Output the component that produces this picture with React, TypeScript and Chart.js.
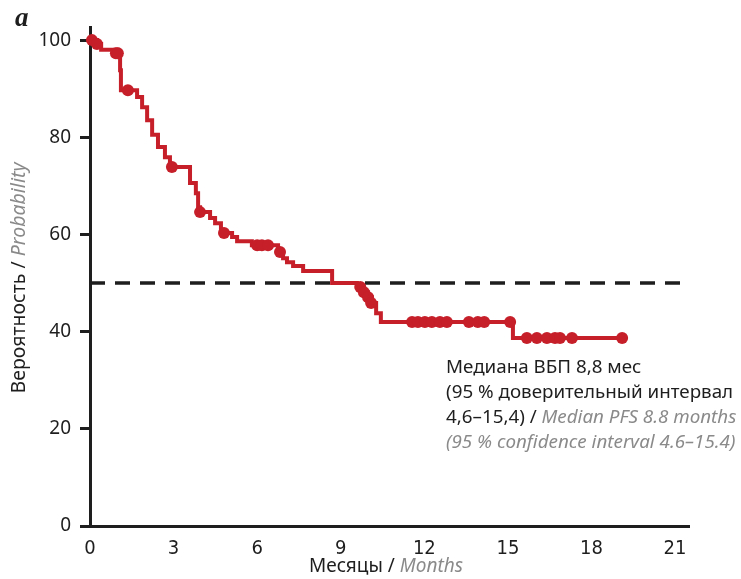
import { useEffect, useRef } from 'react';
import { Chart, registerables } from 'chart.js';

Chart.register(...registerables);

// Tick labels
const xTicks = [0, 3, 6, 9, 12, 15, 18, 21];
const yTicks = [0, 20, 40, 60, 80, 100];

// Kaplan–Meier step curve (months, probability %)
const stepTimes = [0, 0.25, 0.4, 1.0, 1.08, 1.11, 1.69, 1.87, 2.05, 2.23, 2.44, 2.69, 2.87, 3.59, 3.8, 3.88, 3.95, 4.31, 4.49, 4.7, 5.1, 5.28, 5.81, 6.75, 6.93, 7.07, 7.29, 7.65, 8.69, 9.58, 9.76, 9.98, 10.12, 10.27, 10.44, 15.18, 19.1];
const stepValues = [100, 99.2, 98, 97.3, 93.8, 89.7, 88.3, 86.2, 83.5, 80.5, 78, 75.9, 73.9, 70.6, 68.5, 65.6, 64.6, 63.4, 62.3, 60.3, 59.5, 58.6, 57.8, 56.4, 55.1, 54.3, 53.5, 52.5, 50, 49.2, 48.1, 47.1, 45.9, 43.8, 42, 38.7, 38.7];

// Censored observations
const censorTimes = [0.07, 0.25, 0.93, 1.0, 1.36, 2.94, 3.95, 4.81, 6.0, 6.17, 6.39, 6.82, 9.7, 9.83, 9.98, 10.09, 11.56, 11.77, 12.02, 12.27, 12.56, 12.81, 13.6, 13.92, 14.15, 15.08, 15.68, 16.04, 16.4, 16.69, 16.87, 17.3, 19.1];
const censorValues = [100, 99.2, 97.3, 97.3, 89.7, 73.9, 64.6, 60.3, 57.8, 57.8, 57.8, 56.4, 49.2, 48.1, 47.1, 45.9, 42, 42, 42, 42, 42, 42, 42, 42, 42, 42, 38.7, 38.7, 38.7, 38.7, 38.7, 38.7, 38.7];

// Median reference line
const medianTimes = [0, 21.3];
const medianValues = [50, 50];

const RED = '#c61f2a';
const DARK = '#1e1e1e';
const GRAY = '#8a8a8a';
const FONT = "'Noto Sans', 'Open Sans', sans-serif";
const NARROW = "'Liberation Sans Narrow', 'DejaVu Sans Condensed', 'Noto Sans', sans-serif";

type Part = { t: string; italic?: boolean; gray?: boolean };

function drawParts(ctx: CanvasRenderingContext2D, parts: Part[], x: number, y: number, size: number, center = false) {
  let total = 0;
  for (const p of parts) {
    ctx.font = `${p.italic ? 'italic ' : ''}${size}px ${FONT}`;
    total += ctx.measureText(p.t).width;
  }
  let cx = center ? x - total / 2 : x;
  for (const p of parts) {
    ctx.font = `${p.italic ? 'italic ' : ''}${size}px ${FONT}`;
    ctx.fillStyle = p.gray ? GRAY : DARK;
    ctx.fillText(p.t, cx, y);
    cx += ctx.measureText(p.t).width;
  }
}

const textPlugin = {
  id: 'textPlugin',
  afterDraw(chart: any) {
    const ctx: CanvasRenderingContext2D = chart.ctx;
    ctx.save();
    ctx.textBaseline = 'middle';
    ctx.textAlign = 'left';
    // panel letter
    ctx.font = `italic bold 27px 'Liberation Serif', 'DejaVu Serif', serif`;
    ctx.fillStyle = DARK;
    ctx.fillText('a', 15, 19);
    // x title
    drawParts(ctx, [{ t: 'Месяцы / ' }, { t: 'Months', italic: true, gray: true }], 386, 567, 19, true);
    // y title
    ctx.save();
    ctx.translate(19, 278);
    ctx.rotate(-Math.PI / 2);
    drawParts(ctx, [{ t: 'Вероятность / ' }, { t: 'Probability', italic: true, gray: true }], 0, 0, 19.5, true);
    ctx.restore();
    // annotation
    const ax = 446;
    const fs = 18.8;
    drawParts(ctx, [{ t: 'Медиана ВБП 8,8 мес' }], ax, 368, fs);
    drawParts(ctx, [{ t: '(95 % доверительный интервал' }], ax, 393, fs);
    drawParts(ctx, [{ t: '4,6–15,4) / ' }, { t: 'Median PFS 8.8 months', italic: true, gray: true }], ax, 418, fs);
    drawParts(ctx, [{ t: '(95 % confidence interval 4.6–15.4)', italic: true, gray: true }], ax, 443, fs);
    ctx.restore();
  },
};

export default function App() {
  const ref = useRef<HTMLCanvasElement | null>(null);
  useEffect(() => {
    if (!ref.current) return;
    const chart = new Chart(ref.current, {
      type: 'line',
      data: {
        datasets: [
          {
            type: 'scatter',
            data: censorTimes.map((x, i) => ({ x, y: censorValues[i] })),
            pointRadius: 6,
            pointBackgroundColor: RED,
            pointBorderWidth: 0,
            showLine: false,
            clip: false as any,
            order: 1,
          },
          {
            data: stepTimes.map((x, i) => ({ x, y: stepValues[i] })),
            borderColor: RED,
            borderWidth: 4,
            stepped: 'before',
            pointRadius: 0,
            fill: false,
            clip: false as any,
            order: 2,
          },
          {
            data: medianTimes.map((x, i) => ({ x, y: medianValues[i] })),
            borderColor: DARK,
            borderWidth: 3.5,
            borderDash: [15, 10],
            pointRadius: 0,
            fill: false,
            order: 3,
          },
        ],
      },
      options: {
        animation: false,
        responsive: true,
        maintainAspectRatio: false,
        layout: { padding: { top: 27, right: 52, left: 0, bottom: 0 } },
        plugins: { legend: { display: false }, tooltip: { enabled: false } },
        scales: {
          x: {
            type: 'linear',
            min: 0,
            max: 21.5,
            afterFit: (s: any) => { s.height = 53; },
            afterBuildTicks: (s: any) => { s.ticks = xTicks.map((v) => ({ value: v })); },
            border: { display: true, color: DARK, width: 3 },
            grid: { display: true, drawOnChartArea: false, drawTicks: false, color: 'rgba(0,0,0,0)' },
            ticks: { color: DARK, padding: 11, font: { family: NARROW, size: 20 }, maxRotation: 0 },
          },
          y: {
            type: 'linear',
            min: 0,
            max: 102.7,
            afterFit: (s: any) => { s.width = 90; },
            afterBuildTicks: (s: any) => { s.ticks = yTicks.map((v) => ({ value: v })); },
            border: { display: true, color: DARK, width: 3 },
            grid: { display: true, drawOnChartArea: false, drawTicks: true, tickLength: 10, color: DARK, lineWidth: 3 },
            ticks: { color: DARK, padding: 9, font: { family: FONT, size: 19 } },
          },
        },
      },
      plugins: [textPlugin],
    });
    return () => chart.destroy();
  }, []);
  return (
    <div style={{ position: 'absolute', left: 0, top: 0, width: 741, height: 579, background: '#fff' }}>
      <canvas ref={ref} />
    </div>
  );
}
